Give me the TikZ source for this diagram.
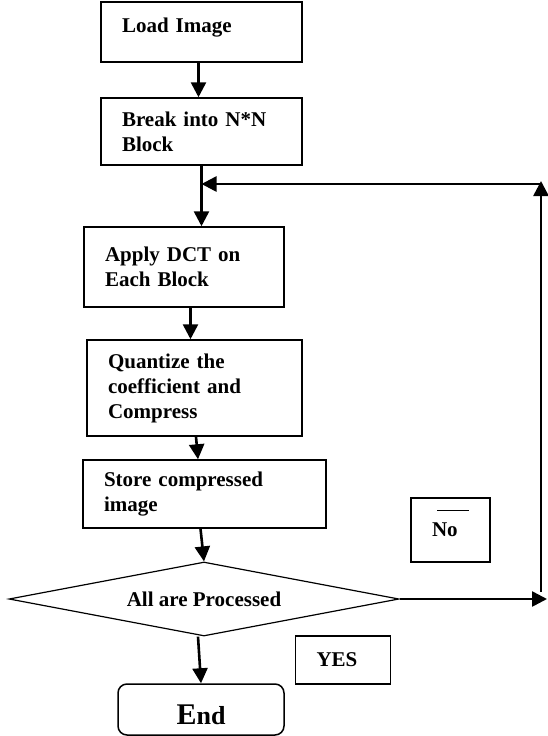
\documentclass[tikz,border=0pt]{standalone}
\usepackage{fontspec}
\setmainfont{Liberation Serif}
\usetikzlibrary{arrows.meta,shapes.geometric}

\begin{document}
\begin{tikzpicture}[x=1pt,y=-1pt,
  every node/.style={font=\fontsize{21}{25}\selectfont\bfseries},
  stepbox/.style={draw, line width=1.5pt, align=left, inner xsep=21pt, inner ysep=0pt},
  flow/.style={line width=2.6pt, -{Triangle[length=15pt,width=15pt]}}]
\useasboundingbox (0,0) rectangle (547,736);
\node[stepbox, text width=159pt, text depth=14pt, minimum height=60pt] (load) at (201.5,32) {Load Image};
\node[stepbox, text width=159pt, minimum height=67pt] (break) at (201.5,131.5) {Break into N*N\\Block};
\node[stepbox, text width=158pt, minimum height=80pt] (apply) at (184,267) {Apply DCT on\\Each Block};
\node[stepbox, text width=173pt, minimum height=96pt] (quant) at (194.5,388) {Quantize the\\coefficient and\\Compress};
\node[stepbox, text width=201pt, minimum height=68pt] (store) at (204.5,494) {Store compressed\\image};
\node[draw, diamond, aspect=5.27, line width=1.2pt, inner sep=0pt, minimum width=390pt, minimum height=74pt] (done) at (204,599) {All are Processed};
\node[draw, rounded corners=9pt, line width=1.5pt, text height=30pt, minimum width=166pt, minimum height=51pt] (end) at (201,709.5) {{\fontsize{30}{30}\selectfont E}{\fontsize{26}{26}\selectfont nd}};
\node[stepbox, text width=53pt, minimum height=48pt] (yes) at (343,660) {YES};
\node[stepbox, text width=37pt, minimum height=64pt] (no) at (450.5,530) {No};
\draw[line width=0.5pt] (437,510) -- (469,510);
% main flow
\draw[flow] ([xshift=-3]load.south) -- ([xshift=-3]break.north);
\draw[flow] (break.south) -- (break.south |- apply.north);
\draw[flow] ([xshift=6.5]apply.south) -- ([xshift=6.5]apply.south |- quant.north);
\draw[flow] ([xshift=1.5]quant.south) -- ([xshift=-6.5]store.north);
\draw[flow] ([xshift=-4]store.south) -- (done.north);
\draw[flow] ([xshift=-6]done.south) -- (end.north);
% loop back
\coordinate (rt) at (541,184);
\coordinate (rb) at (541,592);
\coordinate (re) at (547,599);
\draw[flow] (done.east) -- (re);
\draw[flow] (rb) -- ([yshift=3]rt);
\draw[flow, shorten <=-1pt] (rt) -- (rt -| break.south);
\end{tikzpicture}
\end{document}
